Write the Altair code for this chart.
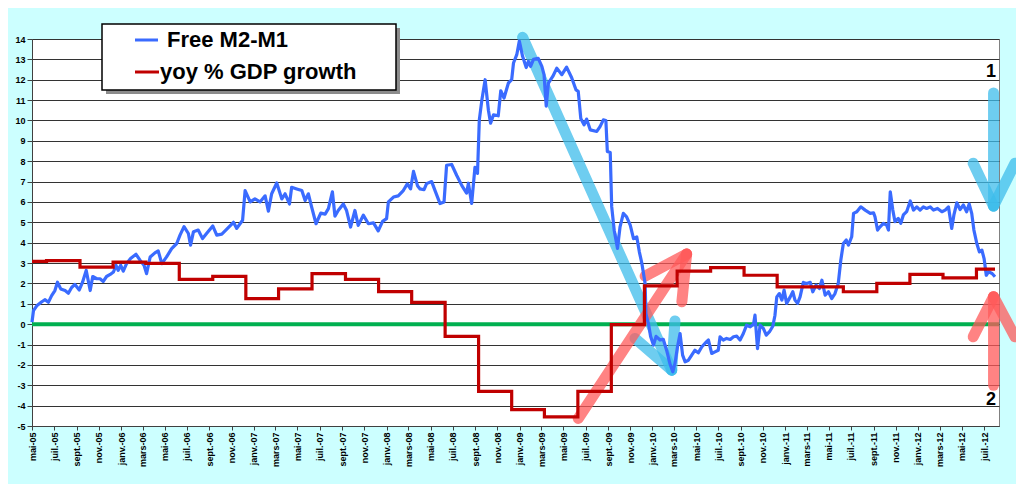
import altair as alt
import pandas as pd

# ---------------- data ----------------
m2_dates = [
    "2005-05-01", "2005-05-05", "2005-05-14", "2005-05-28", "2005-06-06", "2005-06-15", "2005-06-24",
    "2005-07-03", "2005-07-10", "2005-07-19", "2005-07-31", "2005-08-09", "2005-08-18", "2005-08-27",
    "2005-09-08", "2005-09-17", "2005-09-27", "2005-10-08", "2005-10-15", "2005-10-26", "2005-11-04",
    "2005-11-13", "2005-11-22", "2005-12-02", "2005-12-11", "2005-12-18", "2005-12-24", "2005-12-31",
    "2006-01-07", "2006-01-16", "2006-01-27", "2006-02-11", "2006-02-22", "2006-03-05", "2006-03-12",
    "2006-03-22", "2006-04-04", "2006-04-13", "2006-04-23", "2006-05-06", "2006-05-20", "2006-06-03",
    "2006-06-12", "2006-06-23", "2006-07-05", "2006-07-11", "2006-07-19", "2006-08-01", "2006-08-13",
    "2006-08-24", "2006-09-10", "2006-09-21", "2006-10-05", "2006-10-18", "2006-11-06", "2006-11-15",
    "2006-12-01", "2006-12-08", "2006-12-22", "2007-01-04", "2007-01-18", "2007-02-01", "2007-02-10",
    "2007-02-19", "2007-03-05", "2007-03-19", "2007-03-28", "2007-04-09", "2007-04-15", "2007-04-29",
    "2007-05-13", "2007-05-22", "2007-05-31", "2007-06-09", "2007-06-21", "2007-07-04", "2007-07-16",
    "2007-07-25", "2007-08-05", "2007-08-12", "2007-08-21", "2007-09-04", "2007-09-13", "2007-09-24",
    "2007-10-06", "2007-10-15", "2007-10-29", "2007-11-12", "2007-11-26", "2007-12-09", "2007-12-21",
    "2008-01-01", "2008-01-06", "2008-01-20", "2008-02-02", "2008-02-16", "2008-02-27", "2008-03-07",
    "2008-03-15", "2008-03-26", "2008-04-02", "2008-04-13", "2008-04-20", "2008-05-04", "2008-05-13",
    "2008-05-27", "2008-06-07", "2008-06-14", "2008-06-28", "2008-07-12", "2008-07-26", "2008-08-08",
    "2008-08-13", "2008-08-22", "2008-08-31", "2008-09-07", "2008-09-12", "2008-09-19", "2008-09-28",
    "2008-10-07", "2008-10-13", "2008-10-21", "2008-11-03", "2008-11-10", "2008-11-19", "2008-12-01",
    "2008-12-10", "2008-12-15", "2008-12-24", "2008-12-31", "2009-01-09", "2009-01-19", "2009-01-25",
    "2009-01-31", "2009-02-08", "2009-02-21", "2009-03-03", "2009-03-09", "2009-03-15", "2009-03-21",
    "2009-04-02", "2009-04-13", "2009-04-27", "2009-05-10", "2009-05-24", "2009-06-05", "2009-06-11",
    "2009-06-18", "2009-06-27", "2009-07-04", "2009-07-14", "2009-08-01", "2009-08-10", "2009-08-19",
    "2009-08-26", "2009-08-30", "2009-09-07", "2009-09-11", "2009-09-18", "2009-09-27", "2009-10-04",
    "2009-10-13", "2009-10-22", "2009-11-01", "2009-11-10", "2009-11-19", "2009-11-26", "2009-12-03",
    "2009-12-12", "2009-12-14", "2009-12-21", "2009-12-27", "2010-01-04", "2010-01-11", "2010-01-22",
    "2010-01-31", "2010-02-09", "2010-02-18", "2010-02-26", "2010-03-04", "2010-03-11", "2010-03-18",
    "2010-03-25", "2010-04-01", "2010-04-10", "2010-04-19", "2010-04-28", "2010-05-07", "2010-05-17",
    "2010-05-30", "2010-06-04", "2010-06-13", "2010-06-22", "2010-07-01", "2010-07-06", "2010-07-15",
    "2010-07-24", "2010-08-03", "2010-08-12", "2010-08-21", "2010-08-30", "2010-09-08", "2010-09-17",
    "2010-09-27", "2010-10-06", "2010-10-10", "2010-10-17", "2010-10-24", "2010-11-02", "2010-11-10",
    "2010-11-19", "2010-11-28", "2010-12-04", "2010-12-09", "2010-12-16", "2010-12-23", "2010-12-29",
    "2011-01-05", "2011-01-15", "2011-01-22", "2011-01-28", "2011-02-04", "2011-02-11", "2011-02-20",
    "2011-03-01", "2011-03-11", "2011-03-18", "2011-03-27", "2011-04-05", "2011-04-12", "2011-04-21",
    "2011-04-30", "2011-05-09", "2011-05-18", "2011-05-27", "2011-06-03", "2011-06-10", "2011-06-18",
    "2011-06-24", "2011-07-03", "2011-07-08", "2011-07-17", "2011-07-28", "2011-08-09", "2011-08-23",
    "2011-09-01", "2011-09-05", "2011-09-12", "2011-09-19", "2011-09-28", "2011-10-07", "2011-10-12",
    "2011-10-17", "2011-10-24", "2011-10-30", "2011-11-08", "2011-11-15", "2011-11-22", "2011-12-01",
    "2011-12-11", "2011-12-20", "2011-12-29", "2012-01-07", "2012-01-16", "2012-01-25", "2012-02-04",
    "2012-02-13", "2012-02-24", "2012-03-07", "2012-03-16", "2012-03-25", "2012-04-03", "2012-04-09",
    "2012-04-17", "2012-04-26", "2012-05-05", "2012-05-14", "2012-05-21", "2012-05-28", "2012-06-03",
    "2012-06-11", "2012-06-18", "2012-06-25", "2012-07-01", "2012-07-07", "2012-07-13", "2012-07-23",
    "2012-07-31",
]
m2_values = [
    0.1, 0.66, 0.9, 1.1, 1.2, 1.07, 1.4,
    1.65, 2.06, 1.73, 1.65, 1.52, 1.8, 1.95,
    1.68, 2.06, 2.64, 1.65, 2.34, 2.23, 2.23,
    2.1, 2.34, 2.44, 2.56, 2.89, 2.64, 2.89,
    2.6, 2.97, 3.22, 3.43, 3.14, 2.89, 2.48,
    3.3, 3.5, 3.6, 2.97, 3.3, 3.71, 3.96,
    4.37, 4.79, 4.45, 3.88, 4.54, 4.62, 4.2,
    4.45, 4.82, 4.37, 4.42, 4.65, 5.0, 4.7,
    5.1, 6.56, 6.0, 6.15, 6.0, 6.3, 5.55,
    6.4, 6.93, 6.15, 6.4, 5.9, 6.72, 6.64,
    6.56, 6.07, 6.4, 5.75, 4.93, 5.45, 5.4,
    5.67, 6.5, 5.3, 5.58, 5.9, 5.58, 4.77,
    5.58, 4.85, 5.35, 4.93, 4.97, 4.58, 5.05,
    5.18, 6.0, 6.24, 6.3, 6.56, 6.89, 6.64,
    7.5, 6.8, 6.64, 6.6, 6.9, 7.0, 6.57,
    5.92, 6.0, 7.8, 7.84, 7.3, 6.8, 6.43,
    6.92, 5.93, 7.7, 7.4, 10.03, 11.0, 12.0,
    10.5, 9.87, 10.28, 10.23, 11.46, 11.1, 11.84,
    12.0, 12.82, 13.23, 13.9, 13.15, 12.6, 12.9,
    12.66, 13.0, 13.05, 12.66, 12.25, 10.7, 11.84,
    12.16, 12.57, 12.25, 12.62, 12.1, 11.5, 11.43,
    10.1, 9.79, 10.07, 9.54, 9.46, 9.7, 10.03,
    10.0, 8.48, 8.43, 5.77, 4.6, 3.72, 4.78,
    5.44, 5.27, 4.86, 4.2, 4.28, 3.55, 2.98,
    1.98, 0.52, 0.03, -0.6, -1.03, -0.6, -0.78,
    -0.75, -1.28, -1.93, -2.34, -1.93, -1.11, -0.46,
    -1.52, -1.85, -1.77, -1.52, -1.28, -1.41, -1.11,
    -0.86, -0.78, -1.44, -1.36, -1.28, -0.62, -0.78,
    -0.7, -0.75, -0.62, -0.59, -0.78, -0.46, -0.05,
    -0.13, 0.0, 0.44, -1.2, -0.05, -0.21, -0.54,
    -0.37, -0.1, 0.44, 1.34, 1.5, 1.18, 1.67,
    1.02, 1.34, 1.59, 1.18, 1.02, 1.34, 2.05,
    2.0, 2.05, 1.59, 1.92, 1.75, 2.16, 1.42,
    1.59, 1.26, 1.5, 2.0, 3.14, 3.96, 4.13,
    3.88, 4.29, 5.44, 5.52, 5.76, 5.6, 5.44,
    5.47, 5.27, 4.62, 4.78, 4.95, 4.86, 4.62,
    6.5, 5.6, 5.03, 5.19, 4.95, 5.36, 5.52,
    6.05, 5.6, 5.76, 5.6, 5.76, 5.68, 5.76,
    5.6, 5.68, 5.52, 5.6, 5.76, 4.7, 5.36,
    5.96, 5.63, 5.85, 5.52, 5.9, 5.44, 4.62,
    3.96, 3.55, 3.63, 3.22, 2.4, 2.57, 2.49,
    2.33,
]

gdp_dates = [
    "2005-05-01", "2005-06-10", "2005-09-10", "2005-12-10", "2006-03-10", "2006-06-10",
    "2006-09-10", "2006-12-10", "2007-03-10", "2007-06-10", "2007-09-10", "2007-12-10",
    "2008-03-10", "2008-06-10", "2008-09-10", "2008-12-10", "2009-03-10", "2009-06-10",
    "2009-09-10", "2009-12-10", "2010-03-10", "2010-06-10", "2010-09-10", "2010-12-10",
    "2011-03-10", "2011-06-10", "2011-09-10", "2011-12-10", "2012-03-10", "2012-06-10",
    "2012-07-31",
]
gdp_values = [
    3.08, 3.12, 2.8, 3.05, 2.98, 2.2,
    2.35, 1.25, 1.73, 2.48, 2.2, 1.6,
    1.07, -0.6, -3.3, -4.2, -4.55, -3.3,
    -0.02, 1.88, 2.6, 2.78, 2.4, 1.83,
    1.83, 1.59, 2.0, 2.44, 2.27, 2.7,
    2.7,
]

series_names = ["Free M2-M1", "yoy % GDP growth"]
series_colors = ["#3A6BFF", "#C00000"]

month_names = ["janv.", "févr.", "mars", "avr.", "mai", "juin",
               "juil.", "août", "sept.", "oct.", "nov.", "déc."]
tick_dates = pd.date_range("2005-05-01", "2012-07-01", freq="2MS")
y_ticks = list(range(-5, 15))

# annotation arrows: shaft start, tip, two barb ends (date, value)
arrow_kinds = ["blue", "pink", "blue", "pink"]
arrow_start = [("2009-01-09", 14.08), ("2009-06-11", -4.63), ("2012-07-27", 11.35), ("2012-07-27", -3.0)]
arrow_tip = [("2010-02-23", -2.26), ("2010-04-05", 3.44), ("2012-07-27", 5.8), ("2012-07-27", 1.35)]
arrow_barb1 = [("2009-11-14", -0.7), ("2009-12-12", 2.36), ("2012-06-01", 7.9), ("2012-06-01", -0.62)]
arrow_barb2 = [("2010-03-04", 0.16), ("2010-03-23", 1.1), ("2012-09-24", 7.9), ("2012-09-24", -0.62)]
arrow_palette = {"blue": "#3EBCEB", "pink": "#FF5A5A"}

note_labels = ["1", "2"]
note_dates = ["2012-07-20", "2012-07-20"]
note_values = [12.39, -3.73]

# ---------------- tables ----------------
df_m2 = pd.DataFrame({"date": m2_dates, "value": m2_values, "series": series_names[0]})
df_gdp = pd.DataFrame({"date": gdp_dates, "value": gdp_values, "series": series_names[1]})

rows = []
for i, kind in enumerate(arrow_kinds):
    for part, pt in (("shaft", arrow_start[i]), ("b1", arrow_barb1[i]), ("b2", arrow_barb2[i])):
        seg = f"{i}-{part}"
        rows.append({"seg": seg, "kind": kind, "ord": 0, "date": pt[0], "value": pt[1]})
        rows.append({"seg": seg, "kind": kind, "ord": 1, "date": arrow_tip[i][0], "value": arrow_tip[i][1]})
df_arrows = pd.DataFrame(rows)
df_notes = pd.DataFrame({"date": note_dates, "value": note_values, "label": note_labels})

# ---------------- scales / axes ----------------
x_scale = alt.Scale(
    type="utc",
    domain=[alt.DateTime(year=2005, month=5, date=1, utc=True),
            alt.DateTime(year=2012, month=8, date=11, utc=True)],
)
month_js = "[" + ",".join("'" + m + "'" for m in month_names) + "]"
x_axis = alt.Axis(
    values=[alt.DateTime(year=d.year, month=d.month, date=1, utc=True) for d in tick_dates],
    labelExpr=month_js + "[utcmonth(datum.value)] + '-' + utcFormat(datum.value, '%y')",
    labelAngle=-90, labelFontSize=9, labelFontWeight="bold",
    labelFont="Liberation Sans, Arial",
    labelPadding=2, tickSize=4, grid=False, title=None, labelOverlap=False,
)
y_scale = alt.Scale(domain=[-5, 14], nice=False, zero=False)
y_axis = alt.Axis(
    values=y_ticks,
    labelExpr="datum.value < 0 ? '-' + abs(datum.value) : '' + datum.value",
    labelFontSize=9, labelFontWeight="bold", labelPadding=2, tickSize=5,
    grid=True, gridColor="#333333", gridWidth=1, title=None,
)
X = alt.X("date:T", scale=x_scale, axis=x_axis)
Y = alt.Y("value:Q", scale=y_scale, axis=y_axis)

# ---------------- layers ----------------
zero_line = alt.Chart(pd.DataFrame({"z": [0]})).mark_rule(color="#00B050", strokeWidth=4).encode(
    y=alt.Y("z:Q", scale=y_scale, axis=y_axis)
)

arrows = alt.Chart(df_arrows).mark_line(strokeWidth=11, strokeCap="round", opacity=0.75).encode(
    x=X, y=Y, detail="seg:N", order="ord:Q",
    color=alt.Color("kind:N", scale=alt.Scale(domain=list(arrow_palette.keys()),
                                              range=list(arrow_palette.values())), legend=None),
)

m2_line = alt.Chart(df_m2).mark_line(color=series_colors[0], strokeWidth=3.2, strokeJoin="round").encode(x=X, y=Y)
gdp_line = alt.Chart(df_gdp).mark_line(color=series_colors[1], strokeWidth=3.2,
                                       interpolate="step-after").encode(x=X, y=Y)

notes = alt.Chart(df_notes).mark_text(fontSize=18, fontWeight="bold", font="Liberation Sans",
                                      color="black").encode(x=X, y=Y, text="label:N")

one = pd.DataFrame({"a": [0]})
legend_layers = [
    alt.Chart(one).mark_rect(color="#8c8c8c").encode(
        x=alt.value(74), x2=alt.value(368), y=alt.value(-11), y2=alt.value(55)),
    alt.Chart(one).mark_rect(fill="white", stroke="black", strokeWidth=1.5).encode(
        x=alt.value(70), x2=alt.value(364), y=alt.value(-15), y2=alt.value(51)),
]
legend_rows = [(103, 126, 135, 1), (103, 127, 128, 33)]
for (sx1, sx2, tx, ty), name, col in zip(legend_rows, series_names, series_colors):
    legend_layers.append(
        alt.Chart(one).mark_rule(color=col, strokeWidth=3).encode(
            x=alt.value(sx1), x2=alt.value(sx2), y=alt.value(ty)))
    legend_layers.append(
        alt.Chart(one).mark_text(text=name, align="left", baseline="middle", fontSize=22,
                                 fontWeight="bold", font="Liberation Sans", color="black").encode(
            x=alt.value(tx), y=alt.value(ty)))

chart = alt.layer(zero_line, arrows, m2_line, gdp_line, notes, *legend_layers).properties(
    width=967, height=387,
    background="#CCFFFF",
    padding={"left": 24, "top": 31, "right": 17, "bottom": 58},
    autosize=alt.AutoSizeParams(type="none"),
).configure_view(
    fill="white", stroke="#808080", strokeWidth=1,
).configure_axis(
    labelColor="black", domainColor="#404040", tickColor="#404040",
    labelFont="Liberation Sans, Arial",
)

chart.save("out.html", embed_options={"renderer": "svg", "actions": False})
